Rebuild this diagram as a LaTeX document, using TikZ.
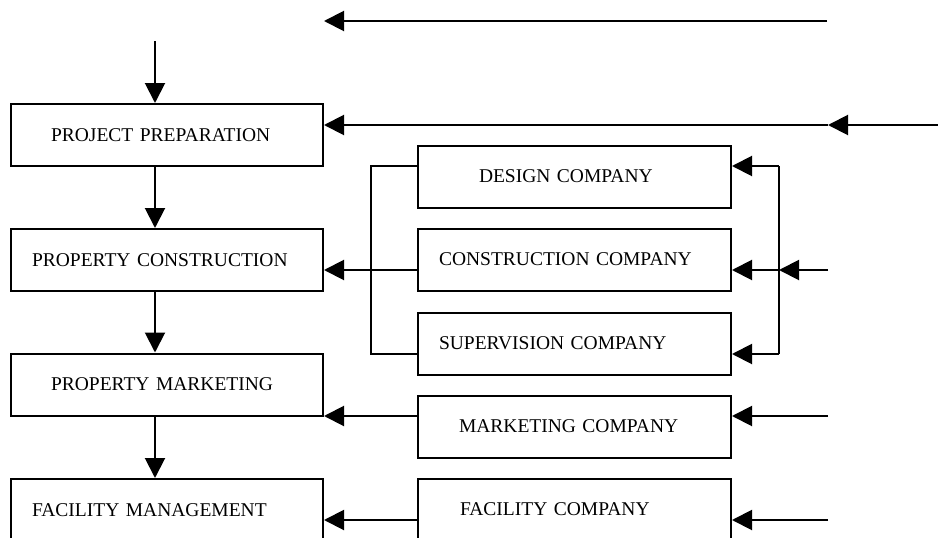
\documentclass[tikz,border=0pt]{standalone}
\usepackage{fontspec}
\setmainfont{Liberation Serif}
\usetikzlibrary{arrows.meta}
\tikzset{stage/.style={draw, rectangle, line width=2pt, inner xsep=0pt, inner ysep=0pt,
minimum height=62pt, text width=312pt, align=left, font=\fontsize{19.5}{23}\selectfont},
firm/.style={stage, text width=313pt},
pointer/.style={line width=2pt, -{Triangle[length=20pt,width=20pt]}},
wire/.style={line width=2pt}}

\begin{document}
\begin{tikzpicture}[x=1pt, y=-1pt]
        \clip (0, 0) rectangle (938, 538);
        % stages of the project
        \node[stage] (prep) at (167, 135) {\hspace*{40pt}PROJECT PREPARATION};
        \node[stage] (build) at (167, 260) {\hspace*{21pt}PROPERTY CONSTRUCTION};
        \node[stage] (market) at (167, 384.5) {\hspace*{40pt}PROPERTY MARKETING};
        \node[stage] (manage) at (167, 510) {\hspace*{21pt}FACILITY MANAGEMENT};
        
        % companies
        \node[firm] (design) at (574.5, 176.5) {\hspace*{61pt}DESIGN COMPANY};
        \node[firm] (constr) at (574.5, 259.5) {\hspace*{21pt}CONSTRUCTION COMPANY};
        \node[firm] (super) at (574.5, 343.5) {\hspace*{21pt}SUPERVISION COMPANY};
        \node[firm] (mkco) at (574.5, 426.5) {\hspace*{41pt}MARKETING COMPANY};
        \node[firm] (facco) at (574.5, 509.5) {\hspace*{42pt}FACILITY COMPANY};
        
        \coordinate (flowin) at (155, 41);
        \coordinate (topin) at (827, 21);
        \coordinate (feedin) at (938, 125);
        \coordinate (feed) at (828, 125);
        \coordinate (ltop) at (371, 166);
        \coordinate (lbot) at (371, 354);
        \coordinate (rtop) at (779, 166);
        \coordinate (rmid) at (779, 270);
        \coordinate (rbot) at (779, 354);
        \coordinate (cin) at (828, 270);
        \coordinate (min) at (828, 416);
        \coordinate (fin) at (828, 520);
        
        \draw (flowin) edge[pointer] (flowin |- prep.north)
              (flowin |- prep.south) edge[pointer] (flowin |- build.north)
              (flowin |- build.south) edge[pointer] (flowin |- market.north)
              (flowin |- market.south) edge[pointer] (flowin |- manage.north)
              
              (topin) edge[pointer] (topin -| prep.east)
              (feedin) edge[pointer] (feed)
              (feed) edge[pointer] (feed -| prep.east);
        
        % brackets round the three companies
        \draw[wire] (design.west |- ltop) -- (ltop) -- (lbot) -- (super.west |- lbot);
        \draw[wire] (rtop) -- (rbot);
        
        \draw (constr.west |- rmid) edge[pointer] (build.east |- rmid)
              (rtop) edge[pointer] (design.east |- rtop)
              (rmid) edge[pointer] (constr.east |- rmid)
              (rbot) edge[pointer] (super.east |- rbot)
              (cin) edge[pointer] (rmid)
              
              (min) edge[pointer] (mkco.east |- min)
              (mkco.west |- min) edge[pointer] (market.east |- min)
              
              (fin) edge[pointer] (facco.east |- fin)
              (facco.west |- fin) edge[pointer] (manage.east |- fin);
    \end{tikzpicture}
\end{document}
